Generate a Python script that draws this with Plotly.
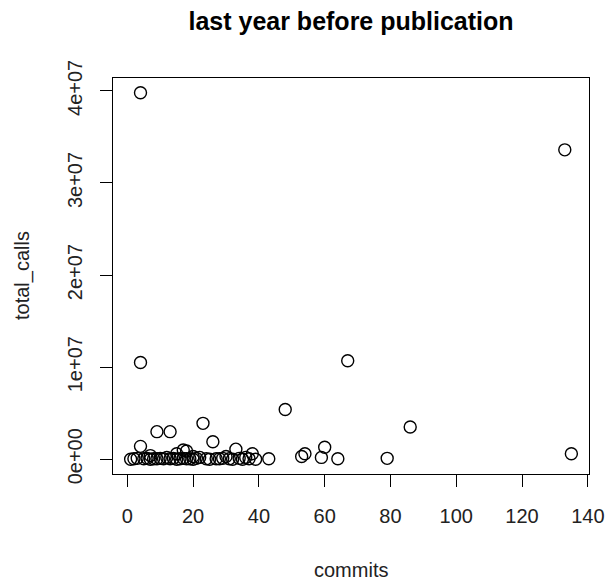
import plotly.graph_objects as go

commits = [4, 133, 4, 67, 48, 23, 86, 9, 13, 26, 4, 33, 60, 17, 18, 54, 53, 59, 64, 79,
           135, 38, 43, 7, 15, 20, 30, 36,
           1, 2, 3, 5, 6, 7, 8, 10, 11, 12, 13, 14, 16, 17, 19, 20, 21, 22, 24, 25,
           27, 29, 31, 32, 34, 35, 37, 39, 28, 9, 15, 18]
total_calls = [3.98e7, 3.36e7, 1.05e7, 1.07e7, 5.4e6, 3.9e6, 3.5e6, 3.0e6, 3.0e6, 1.9e6,
               1.4e6, 1.1e6, 1.3e6, 1.0e6, 0.9e6, 0.6e6, 0.3e6, 0.2e6, 0.05e6, 0.1e6,
               0.6e6, 0.6e6, 0.05e6, 0.4e6, 0.6e6, 0.3e6, 0.3e6, 0.2e6,
               0.0, 0.05e6, 0.1e6, 0.05e6, 0.1e6, 0.0, 0.05e6, 0.1e6, 0.05e6, 0.2e6,
               0.05e6, 0.1e6, 0.05e6, 0.1e6, 0.05e6, 0.0, 0.1e6, 0.2e6, 0.05e6, 0.0,
               0.05e6, 0.1e6, 0.05e6, 0.0, 0.1e6, 0.0, 0.05e6, 0.0, 0.05e6, 0.05e6,
               0.0, 0.05e6]

x_ticks = [0, 20, 40, 60, 80, 100, 120, 140]
y_ticks = [0, 1e7, 2e7, 3e7, 4e7]
y_tick_labels = ["0e+00", "1e+07", "2e+07", "3e+07", "4e+07"]

FONT = "Liberation Sans, Arial, sans-serif"

fig = go.Figure()
fig.add_trace(go.Scatter(
    x=commits, y=total_calls, mode="markers",
    marker=dict(symbol="circle-open", size=12, color="black", line=dict(width=1.4, color="black")),
    showlegend=False, hoverinfo="x+y",
))

fig.update_layout(
    width=605, height=581,
    margin=dict(l=113, r=16, t=78, b=107, autoexpand=False),
    paper_bgcolor="white", plot_bgcolor="white",
    font=dict(family=FONT, size=20, color="#222"),
    title=dict(text="<b>last year before publication</b>", x=351/605, xanchor="center",
               y=1 - 21/581, yanchor="middle", font=dict(size=25, family=FONT, color="black")),
    annotations=[
        dict(text="commits", xref="paper", yref="paper", x=0.5, y=(474 - 570) / 396,
             xanchor="center", yanchor="middle", showarrow=False, font=dict(size=20, color="#222")),
        dict(text="total_calls", xref="paper", yref="paper", x=(22 - 113) / 476, y=(474 - 276) / 396,
             xanchor="center", yanchor="middle", showarrow=False, textangle=-90,
             font=dict(size=20, color="#222")),
    ],
)
fig.update_xaxes(
    range=[-4.36, 140.36], tickvals=x_ticks, ticks="outside", ticklen=12, tickwidth=1,
    tickcolor="black", showline=True, linecolor="black", linewidth=1, mirror=True,
    showgrid=False, zeroline=False, ticklabelstandoff=12, automargin=False,
    tickfont=dict(size=20, color="#222"),
)
fig.update_yaxes(
    range=[-1.6e6, 4.14e7], tickvals=y_ticks, ticktext=y_tick_labels, tickangle=-90,
    ticks="outside", ticklen=12, tickwidth=1, tickcolor="black", showline=True,
    linecolor="black", linewidth=1, mirror=True, showgrid=False, zeroline=False,
    ticklabelstandoff=10, automargin=False, tickfont=dict(size=20, color="#222"),
)

fig.write_html("out.html", config={"displayModeBar": False},
               post_script="document.body.style.margin='0';document.body.style.overflow='hidden';")
